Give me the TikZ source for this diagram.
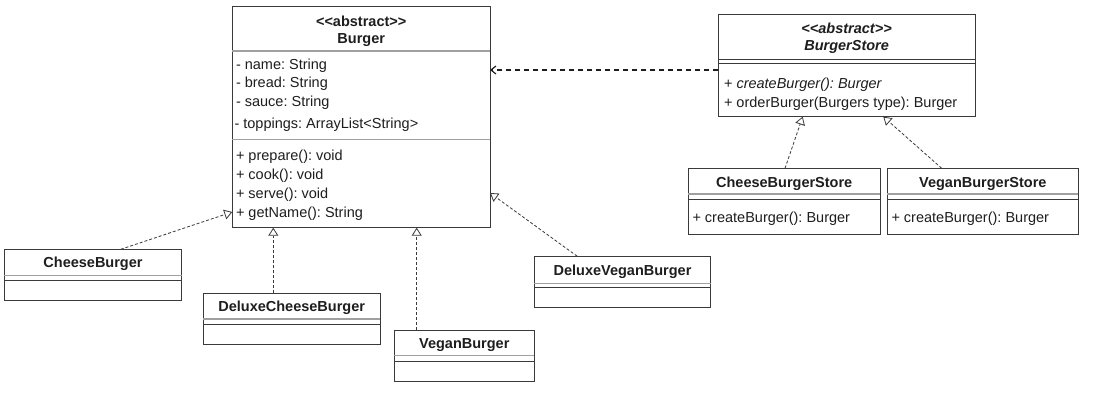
\documentclass[tikz,border=0pt]{standalone}
\usepackage{fontspec}
\setmainfont{Liberation Sans}
\usetikzlibrary{calc,arrows.meta}
\definecolor{ink}{HTML}{1E1E1E}
\definecolor{edgec}{HTML}{3A3A3A}
\definecolor{sepl}{HTML}{A0A0A0}
\newcommand\sepline[3]{\draw[#3] ($(#1.north west)+(0,#2)$) -- ($(#1.north east)+(0,#2)$);}
\newcommand\stereo{{<}{<}abstract{>}{>}}
\frenchspacing
\begin{document}
\frenchspacing
\begin{tikzpicture}[x=1pt,y=-1pt,
  font=\fontsize{14.5}{17}\selectfont\frenchspacing, text=ink,
  cls/.style={draw=edgec, line width=1pt, fill=white, anchor=north west, inner sep=0pt, outer sep=0pt},
  txt/.style={anchor=base west, inner sep=0pt, outer sep=0pt},
  ttl/.style={anchor=base, inner sep=0pt, outer sep=0pt, font=\fontsize{14.5}{17}\selectfont\bfseries},
  sepa/.style={draw=sepl, line width=1.3pt},
  sepb/.style={draw=edgec, line width=1pt},
  impl/.style={draw=edgec, line width=0.8pt, dash pattern=on 3pt off 2pt, -{Triangle[open, length=8pt, width=10pt, fill=white]}},
  dep/.style={draw=ink, line width=1.2pt, dash pattern=on 5pt off 4pt, -{Straight Barb[length=5pt, width=8pt]}}]
\fill[white] (0,0) rectangle (1099,407);
\useasboundingbox (0,0) rectangle (1099,407);

% Burger
\node[cls, minimum width=257.7pt, minimum height=221.7pt] (burger) at (232.3,6) {};
\sepline{burger}{45}{sepa}
\sepline{burger}{133.7}{sepa}
\node[ttl] (burgerS) at (361.2,26) {\stereo};
\node[ttl] (burgerN) at (361.2,43.5) {Burger};
\node[txt] (ba1) at (236,69.3) {- name: String};
\node[txt] (ba2) at (236,87.5) {- bread: String};
\node[txt] (ba3) at (236,106.5) {- sauce: String};
\node[txt] (ba4) at (234.5,128) {- toppings: ArrayList<String>};
\node[txt] (bm1) at (236,160.5) {+ prepare(): void};
\node[txt] (bm2) at (236,179.5) {+ cook(): void};
\node[txt] (bm3) at (236,198.5) {+ serve(): void};
\node[txt] (bm4) at (236,217.3) {+ getName(): String};

% BurgerStore
\node[cls, minimum width=256.7pt, minimum height=102.7pt] (bs) at (718.3,14) {};
\sepline{bs}{45}{sepb}
\sepline{bs}{49.5}{sepb}
\node[ttl, font=\fontsize{14.5}{17}\selectfont\bfseries\itshape] (bsS) at (846.6,33) {\stereo};
\node[ttl, font=\fontsize{14.5}{17}\selectfont\bfseries\itshape] (bsN) at (846.6,50.5) {BurgerStore};
\node[txt] (bsm1) at (724,88.5) {+ \textit{createBurger(): Burger}};
\node[txt] (bsm2) at (724,107) {+ orderBurger(Burgers type): Burger};

% CheeseBurgerStore
\node[cls, minimum width=191.7pt, minimum height=66pt] (cbs) at (688.3,168.3) {};
\sepline{cbs}{25.7}{sepa}
\sepline{cbs}{30.7}{sepb}
\node[ttl] (cbsN) at (784.2,187.7) {CheeseBurgerStore};
\node[txt] (cbsm) at (692.5,222.5) {+ createBurger(): Burger};

% VeganBurgerStore
\node[cls, minimum width=191pt, minimum height=66pt] (vbs) at (887.3,168.3) {};
\sepline{vbs}{25.7}{sepa}
\sepline{vbs}{30.7}{sepb}
\node[ttl] (vbsN) at (982.8,187.7) {VeganBurgerStore};
\node[txt] (vbsm) at (891.5,222.5) {+ createBurger(): Burger};

% CheeseBurger
\node[cls, minimum width=177.4pt, minimum height=50.7pt] (cb) at (4.3,249.3) {};
\sepline{cb}{26.4}{sepa}
\sepline{cb}{30.7}{sepb}
\node[ttl] (cbN) at (93,267.7) {CheeseBurger};

% DeluxeCheeseBurger
\node[cls, minimum width=176.7pt, minimum height=51pt] (dcb) at (203.3,293.3) {};
\sepline{dcb}{25.7}{sepa}
\sepline{dcb}{31}{sepb}
\node[ttl] (dcbN) at (291.7,311.7) {DeluxeCheeseBurger};

% VeganBurger
\node[cls, minimum width=140pt, minimum height=51.3pt] (vb) at (394.3,330) {};
\sepline{vb}{25.7}{sepa}
\sepline{vb}{31}{sepb}
\node[ttl] (vbN) at (464.3,348.3) {VeganBurger};

% DeluxeVeganBurger
\node[cls, minimum width=176.4pt, minimum height=51.4pt] (dvb) at (534.3,256.3) {};
\sepline{dvb}{27}{sepa}
\sepline{dvb}{31}{sepb}
\node[ttl] (dvbN) at (622.5,275) {DeluxeVeganBurger};

% connectors
\draw[dep] ($(bs.north west)+(0,56)$) -- ($(burger.north east)+(0,64)$);
\draw[impl] ($(cb.north west)+(116.4,0)$) -- ($(burger.north west)+(0,206)$);
\draw[impl] ($(dcb.north west)+(70,0)$) -- ($(burger.south west)+(41,0)$);
\draw[impl] ($(vb.north west)+(22.4,0)$) -- ($(burger.south west)+(184.4,0)$);
\draw[impl] ($(dvb.north west)+(43,0)$) -- ($(burger.north east)+(0,187)$);
\draw[impl] ($(cbs.north west)+(96.7,0)$) -- ($(bs.south west)+(84.4,0)$);
\draw[impl] ($(vbs.north west)+(54.4,0)$) -- ($(bs.south west)+(165,0)$);
\end{tikzpicture}
\end{document}
